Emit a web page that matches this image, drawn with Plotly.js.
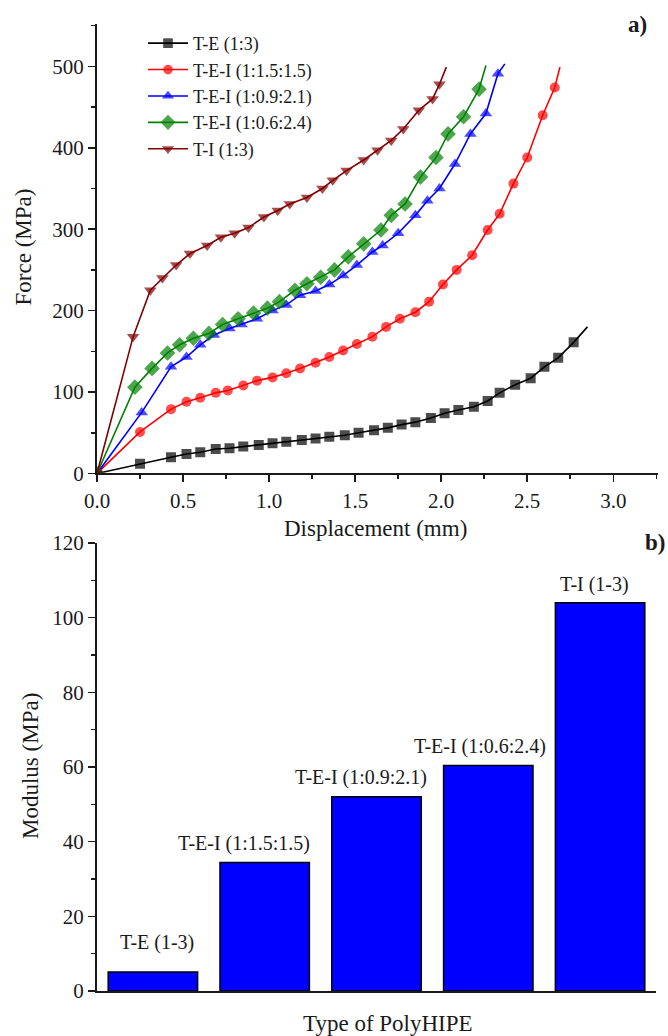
<!DOCTYPE html>
<html>
<head>
<meta charset="utf-8">
<script src="https://cdn.plot.ly/plotly-3.0.1.min.js"></script>
<style>
  html, body { margin: 0; padding: 0; background: #fff; }
  #chart { width: 668px; height: 1036px; }
</style>
</head>
<body>
<div id="chart"></div>
<script>
// ---- Panel a) Force vs displacement ----
var teName = "T-E (1:3)";
var teX = [0, 0.25, 0.43, 0.52, 0.60, 0.69, 0.77, 0.85, 0.94, 1.02, 1.10, 1.19, 1.27, 1.35, 1.44, 1.52, 1.61, 1.69, 1.77, 1.85, 1.94, 2.02, 2.10, 2.19, 2.27, 2.34, 2.43, 2.52, 2.60, 2.68, 2.77, 2.85];
var teY = [0, 12, 20, 24, 26, 30, 31, 33, 35, 37, 39, 41, 43, 45, 47, 50, 53, 56, 60, 63, 68, 74, 78, 82, 89, 99, 109, 117, 131, 142, 161, 180];

var tei15Name = "T-E-I (1:1.5:1.5)";
var tei15X = [0, 0.25, 0.43, 0.52, 0.60, 0.69, 0.76, 0.85, 0.93, 1.02, 1.10, 1.18, 1.27, 1.35, 1.43, 1.51, 1.60, 1.68, 1.76, 1.85, 1.93, 2.01, 2.09, 2.18, 2.27, 2.34, 2.42, 2.50, 2.59, 2.66, 2.69];
var tei15Y = [0, 51, 79, 88, 93, 99, 102, 108, 114, 118, 123, 129, 136, 143, 151, 159, 168, 180, 190, 198, 211, 232, 250, 268, 299, 319, 356, 388, 440, 474, 499];

var tei09Name = "T-E-I (1:0.9:2.1)";
var tei09X = [0, 0.26, 0.43, 0.52, 0.60, 0.68, 0.77, 0.84, 0.93, 1.02, 1.10, 1.18, 1.27, 1.35, 1.43, 1.51, 1.60, 1.66, 1.75, 1.85, 1.92, 1.99, 2.08, 2.17, 2.26, 2.33, 2.37];
var tei09Y = [0, 75, 131, 143, 158, 170, 178, 183, 190, 200, 207, 219, 224, 232, 243, 256, 272, 280, 295, 317, 335, 350, 380, 417, 442, 491, 503];

var tei06Name = "T-E-I (1:0.6:2.4)";
var tei06X = [0, 0.22, 0.32, 0.41, 0.48, 0.56, 0.65, 0.73, 0.82, 0.91, 0.99, 1.06, 1.15, 1.22, 1.30, 1.38, 1.46, 1.55, 1.65, 1.71, 1.79, 1.88, 1.97, 2.04, 2.13, 2.22, 2.26];
var tei06Y = [0, 106, 129, 148, 158, 166, 172, 183, 190, 197, 203, 211, 225, 233, 241, 250, 266, 282, 299, 317, 331, 364, 388, 417, 438, 472, 501];

var tiName = "T-I (1:3)";
var tiX = [0, 0.21, 0.31, 0.38, 0.46, 0.54, 0.64, 0.72, 0.80, 0.88, 0.97, 1.05, 1.12, 1.22, 1.31, 1.37, 1.45, 1.55, 1.63, 1.71, 1.78, 1.87, 1.95, 1.99, 2.03];
var tiY = [0, 168, 225, 240, 256, 270, 280, 290, 295, 302, 315, 323, 331, 339, 350, 360, 372, 385, 397, 409, 423, 446, 460, 478, 499];

var forceTicks = [0, 100, 200, 300, 400, 500];
var dispTicks = [0.0, 0.5, 1.0, 1.5, 2.0, 2.5, 3.0];

// ---- Panel b) Modulus bars ----
var polyTypes = ["T-E (1-3)", "T-E-I (1:1.5:1.5)", "T-E-I (1:0.9:2.1)", "T-E-I (1:0.6:2.4)", "T-I (1-3)"];
var modulus = [5.1, 34.4, 52.0, 60.4, 104.0];
var modulusTicks = [0, 20, 40, 60, 80, 100, 120];

// label placement styles (pixel offsets)
var labelXShift = [4, -21, -15, -8, -6];
var labelYShift = [16, 6, 6, 5, 5];

var FONT = "'Liberation Serif', 'Times New Roman', serif";
var INK = "#1a1a1a";

function curve(name, xs, ys, color, symbol, msize) {
  var sizes = xs.map(function (_, i) { return i === xs.length - 1 ? 0 : msize; });
  return {
    type: "scatter", mode: "lines+markers", name: name,
    x: xs, y: ys, xaxis: "x", yaxis: "y",
    line: { color: color, width: 1.6 },
    marker: { color: color, symbol: symbol, size: sizes, line: { width: 0 } }
  };
}

var traces = [
  curve(teName, teX, teY, "#000000", "square", 10),
  curve(tei15Name, tei15X, tei15Y, "#ff0000", "circle", 10),
  curve(tei09Name, tei09X, tei09Y, "#0000ff", "triangle-up", 11),
  curve(tei06Name, tei06X, tei06Y, "#008000", "diamond", 12),
  curve(tiName, tiX, tiY, "#800000", "triangle-down", 11),
  {
    type: "bar", x: polyTypes, y: modulus, xaxis: "x2", yaxis: "y2",
    showlegend: false,
    marker: { color: "#0000ff", line: { color: "#000000", width: 1.5 } },
    width: 0.8
  }
];

var annotations = [];
polyTypes.forEach(function (c, i) {
  annotations.push({
    x: c, y: modulus[i], xref: "x2", yref: "y2",
    text: c, showarrow: false, xanchor: "center", yanchor: "bottom",
    xshift: labelXShift[i], yshift: labelYShift[i],
    font: { family: FONT, size: 20, color: INK }
  });
});

function paperText(text, x, y, size, angle, bold) {
  return {
    xref: "paper", yref: "paper", x: x, y: y, text: bold ? "<b>" + text + "</b>" : text,
    showarrow: false, xanchor: "center", yanchor: "middle", textangle: angle || 0,
    font: { family: FONT, size: size, color: INK }
  };
}
annotations.push(paperText("Force (MPa)", -0.1319, 0.7689, 23, -90));
annotations.push(paperText("Displacement (mm)", 0.4973, 0.4788, 23, 0));
annotations.push(paperText("Modulus (MPa)", -0.1176, 0.2327, 23, -90));
annotations.push(paperText("Type of PolyHIPE", 0.5187, -0.0331, 23, 0));
annotations.push(paperText("a)", 0.9626, 0.9990, 23, 0, true));
annotations.push(paperText("b)", 0.9947, 0.4633, 23, 0, true));

var axisCommon = {
  showgrid: false, zeroline: false, showline: true,
  linecolor: INK, linewidth: 2, ticks: "outside", ticklen: 7, tickwidth: 1.5, tickcolor: INK,
  tickfont: { family: FONT, size: 21, color: INK }
};

var layout = {
  width: 668, height: 1036,
  margin: { l: 97, r: 10, t: 24, b: 45 },
  paper_bgcolor: "#ffffff", plot_bgcolor: "#ffffff",
  font: { family: FONT, color: INK },
  showlegend: true,
  legend: {
    x: 0.0820, y: 0.9990, xanchor: "left", yanchor: "top",
    bgcolor: "rgba(0,0,0,0)", borderwidth: 0,
    font: { family: FONT, size: 18, color: INK },
    itemwidth: 40, tracegroupgap: 0
  },
  xaxis: Object.assign({}, axisCommon, {
    domain: [0, 1], range: [0, 3.26], anchor: "y",
    tickmode: "array", tickvals: dispTicks, ticktext: dispTicks.map(function (v) { return v.toFixed(1); }),
    minor: { dtick: 0.25, tick0: 0, ticks: "outside", ticklen: 4, tickwidth: 1.5, tickcolor: INK }
  }),
  yaxis: Object.assign({}, axisCommon, {
    domain: [0.5352, 1], range: [0, 552], anchor: "x",
    tickmode: "array", tickvals: forceTicks,
    minor: { dtick: 50, tick0: 0, ticks: "outside", ticklen: 4, tickwidth: 1.5, tickcolor: INK }
  }),
  xaxis2: Object.assign({}, axisCommon, {
    domain: [0, 0.9964], range: [-0.5, 4.5], anchor: "y2", type: "category",
    ticks: "", showticklabels: false
  }),
  yaxis2: Object.assign({}, axisCommon, {
    domain: [0, 0.4633], range: [0, 120], anchor: "x2",
    tickmode: "array", tickvals: modulusTicks,
    minor: { dtick: 10, tick0: 0, ticks: "outside", ticklen: 4, tickwidth: 1.5, tickcolor: INK }
  }),
  bargap: 0.2,
  annotations: annotations
};

Plotly.newPlot("chart", traces, layout, { staticPlot: true, displayModeBar: false });
</script>
</body>
</html>
